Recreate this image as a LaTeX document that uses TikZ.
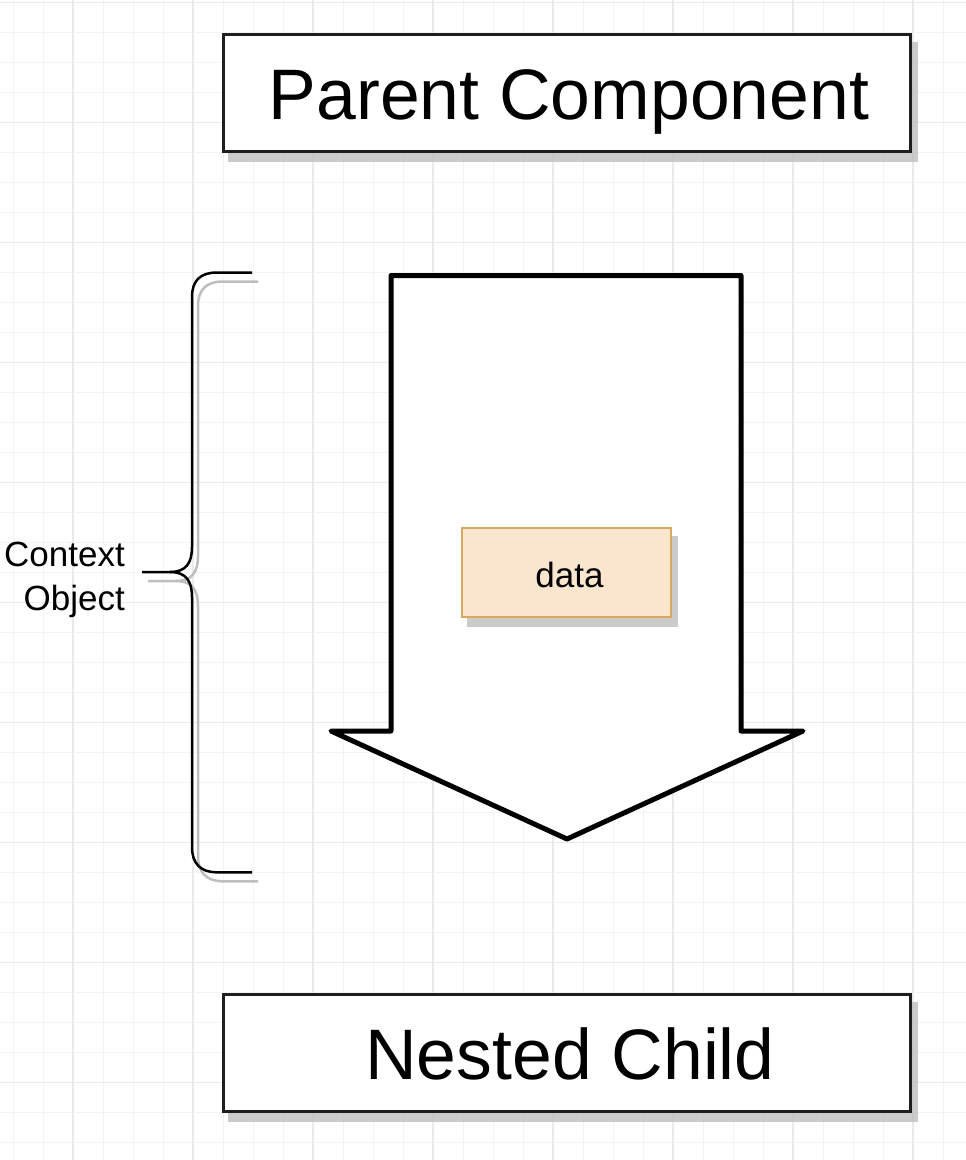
\documentclass[tikz,border=0pt]{standalone}
\usepackage{fontspec}
\setmainfont{Liberation Sans}
\definecolor{gridminor}{RGB}{244,244,244}
\definecolor{gridmajor}{RGB}{234,234,234}
\definecolor{boxline}{RGB}{30,30,30}
\definecolor{shadowgray}{RGB}{190,190,190}
\definecolor{datafill}{RGB}{250,229,207}
\definecolor{dataline}{RGB}{214,170,95}
\begin{document}
\begin{tikzpicture}[x=1pt,y=-1pt,
  minorline/.style={draw=gridminor,line width=1pt},
  majorline/.style={draw=gridmajor,line width=1.2pt},
  bigbox/.style={draw=boxline,line width=3pt,fill=white,minimum width=687pt,minimum height=117pt,inner sep=0pt},
  shadowbox/.style={fill=shadowgray,opacity=0.8,minimum width=690pt,minimum height=120pt,inner sep=0pt},
  bigtext/.style={font=\fontsize{71.5}{80}\selectfont,inner sep=0pt,anchor=base},
  databox/.style={draw=dataline,line width=2pt,fill=datafill,minimum width=209pt,minimum height=89pt,inner sep=0pt},
  datashadow/.style={fill=shadowgray,opacity=0.8,minimum width=211pt,minimum height=91pt,inner sep=0pt},
  smalltext/.style={font=\fontsize{35}{44}\selectfont,inner sep=0pt},
  bracestyle/.style={draw=black,line width=2.5pt,line cap=butt},
  braceshadow/.style={draw=shadowgray,line width=2.5pt},
  arrowstyle/.style={draw=black,line width=5pt,line join=round,fill=white}]
\useasboundingbox (0,0) rectangle (966,1160);
\fill[white] (0,0) rectangle (966,1160);
% grid
\foreach \x in {13,43,...,966} {\draw[minorline] (\x,0) -- (\x,1160);}
\foreach \y in {2.7,32.7,...,1160} {\draw[minorline] (0,\y) -- (966,\y);}
\foreach \x in {73,193,...,966} {\draw[majorline] (\x,0) -- (\x,1160);}
\foreach \y in {2.7,122.7,...,1160} {\draw[majorline] (0,\y) -- (966,\y);}
% parent component
\node[shadowbox] (parentshadow) at (573,102) {};
\node[bigbox] (parent) at (567,93) {};
\node[bigtext] (parentlabel) at (569,119.5) {Parent Component};
% nested child
\node[shadowbox] (childshadow) at (573,1061.7) {};
\node[bigbox] (child) at (567,1052.7) {};
\node[bigtext] (childlabel) at (570,1079.3) {Nested Child};
% big arrow
\draw[arrowstyle] (391,275.5) -- (741,275.5) -- (741,731) -- (803,731) -- (567,839) -- (331,731) -- (391,731) -- cycle;
% data
\node[datashadow] (datashadow) at (572.5,581.5) {};
\node[databox] (data) at (566.5,572.5) {};
\node[smalltext,anchor=base] (datalabel) at (569.5,587.5) {data};
% brace shadow
\begin{scope}[shift={(6,9)}]
\draw[braceshadow] (252,272.5) -- (217,272.5) .. controls (200,272.5) and (192,281) .. (192,297) -- (192,547) .. controls (192,563) and (186,572) .. (170,572) -- (142,572);
\draw[braceshadow] (170,572) .. controls (186,572) and (192,581) .. (192,597) -- (192,847) .. controls (192,863) and (200,872.3) .. (217,872.3) -- (252,872.3);
\end{scope}
% brace
\draw[bracestyle] (252,272.5) -- (217,272.5) .. controls (200,272.5) and (192,281) .. (192,297) -- (192,547) .. controls (192,563) and (186,572) .. (170,572) -- (142,572);
\draw[bracestyle] (170,572) .. controls (186,572) and (192,581) .. (192,597) -- (192,847) .. controls (192,863) and (200,872.3) .. (217,872.3) -- (252,872.3);
% context object label
\node[smalltext,anchor=base east] (ctx1) at (125,566) {Context};
\node[smalltext,anchor=base east] (ctx2) at (125,610) {Object};
\end{tikzpicture}
\end{document}
